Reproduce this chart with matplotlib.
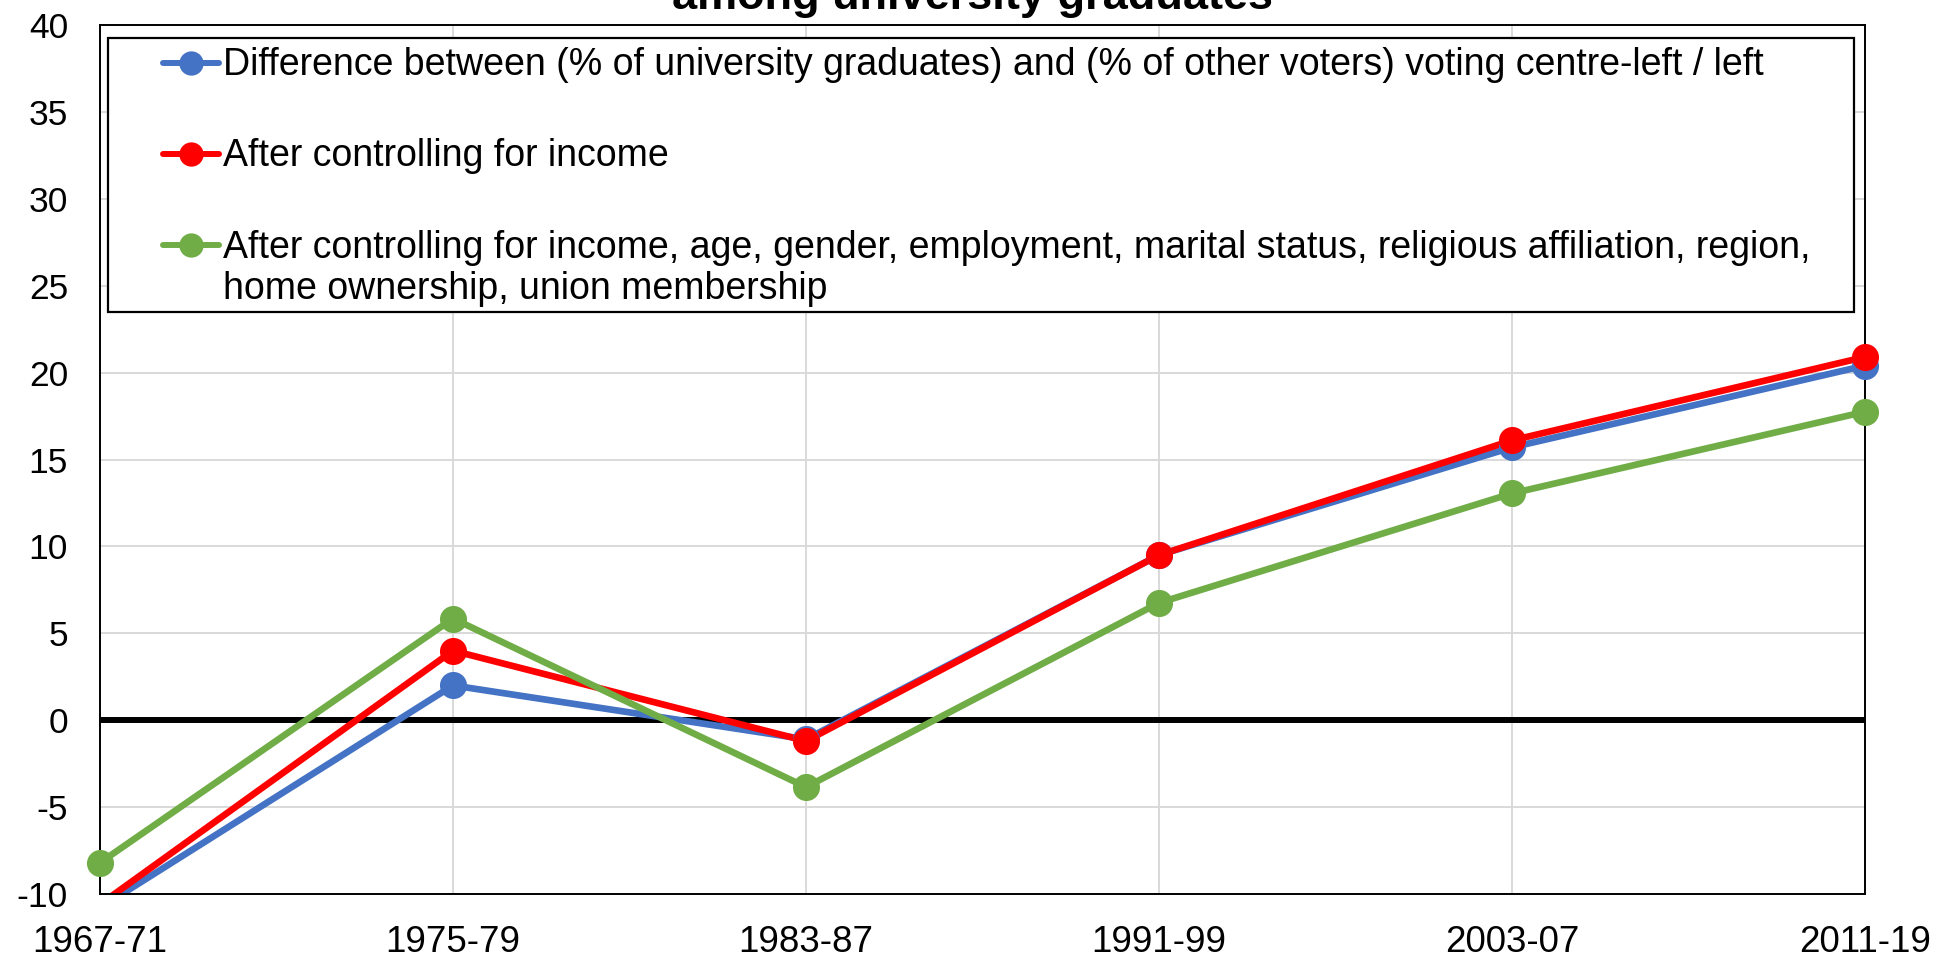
import numpy as np
import matplotlib
matplotlib.use("Agg")
import matplotlib.pyplot as plt
from matplotlib.patches import Rectangle
from matplotlib.lines import Line2D

plt.rcParams['font.family'] = ['Liberation Sans', 'DejaVu Sans']

# ---- data ----
categories = ["1967-71", "1975-79", "1983-87", "1991-99", "2003-07", "2011-19"]
diff_raw = [-10.8, 2.0, -1.1, 9.5, 15.7, 20.4]
after_income = [-10.6, 4.0, -1.2, 9.5, 16.1, 20.9]
after_all = [-8.2, 5.85, -3.85, 6.75, 13.05, 17.75]
series_labels = [
    "Difference between (% of university graduates) and (% of other voters) voting centre-left / left",
    "After controlling for income",
    "After controlling for income, age, gender, employment, marital status, religious affiliation, region,\nhome ownership, union membership",
]
series_colors = ["#4472C4", "#FF0000", "#70AD47"]
yticks = list(range(-10, 41, 5))
title_text = "among university graduates"

fig = plt.figure(figsize=(19.55, 9.68), dpi=100)
ax = fig.add_axes([0.05115, 0.07645, 0.9028, 0.8977])
ymin, ymax = -10, 40

x = np.arange(len(categories))
ax.set_xlim(0, len(categories) - 1)
ax.set_ylim(ymin, ymax)
ax.set_xticks(x)
ax.set_xticklabels(categories)
ax.set_yticks(yticks)
ax.set_yticklabels([str(v) for v in yticks])
ax.tick_params(axis='x', length=0, pad=22, labelsize=26.5)
ax.tick_params(axis='y', length=0, pad=23, labelsize=25.5)

ax.grid(True, color="#D9D9D9", linewidth=1.4, zorder=0)
ax.set_axisbelow(True)
for s in ax.spines.values():
    s.set_color("black")
    s.set_linewidth(1.4)
    s.set_zorder(5)

ax.axhline(0, color="black", linewidth=4.3, zorder=2)

all_series = [diff_raw, after_income, after_all]
for i, (vals, col) in enumerate(zip(all_series, series_colors)):
    v = np.array(vals, dtype=float)
    ax.plot(x, v, color=col, linewidth=4.8, solid_capstyle='round', zorder=3 + i * 0.1)
    vm = np.ma.masked_outside(v, ymin, ymax)
    ax.plot(x, vm, linestyle='none', marker='o', markersize=19.5, color=col,
            markeredgewidth=0, clip_on=False, zorder=6 + i * 0.1)

# ---- legend (drawn inside the plot area, Excel style) ----
box = Rectangle((0.0045, 0.6697), 0.9893, 0.3157, transform=ax.transAxes,
                facecolor="white", edgecolor="black", linewidth=1.6, zorder=7)
ax.add_patch(box)
handle_y = [0.9566, 0.8516, 0.7468]
baseline_y = [0.9425, 0.8381, 0.7315]
line_gap = 0.047
hx0, hx1, hxm, tx = 0.0357, 0.0674, 0.0516, 0.0697
for lab, col, hy, by in zip(series_labels, series_colors, handle_y, baseline_y):
    ax.add_line(Line2D([hx0, hx1], [hy, hy], transform=ax.transAxes, color=col,
                       linewidth=4.3, solid_capstyle='round', zorder=8))
    ax.add_line(Line2D([hxm], [hy], transform=ax.transAxes, color=col, marker='o',
                       markersize=17.5, markeredgewidth=0, zorder=8))
    for k, part in enumerate(lab.split("\n")):
        ax.text(tx, by - k * line_gap, part, transform=ax.transAxes, fontsize=27,
                va='baseline', ha='left', color='black', zorder=8)

fig.text(0.4975, 1 - 8.5 / 968, title_text, ha='center', va='baseline',
         fontsize=32.5, fontweight='bold')

fig.savefig("out.png", dpi=100)
